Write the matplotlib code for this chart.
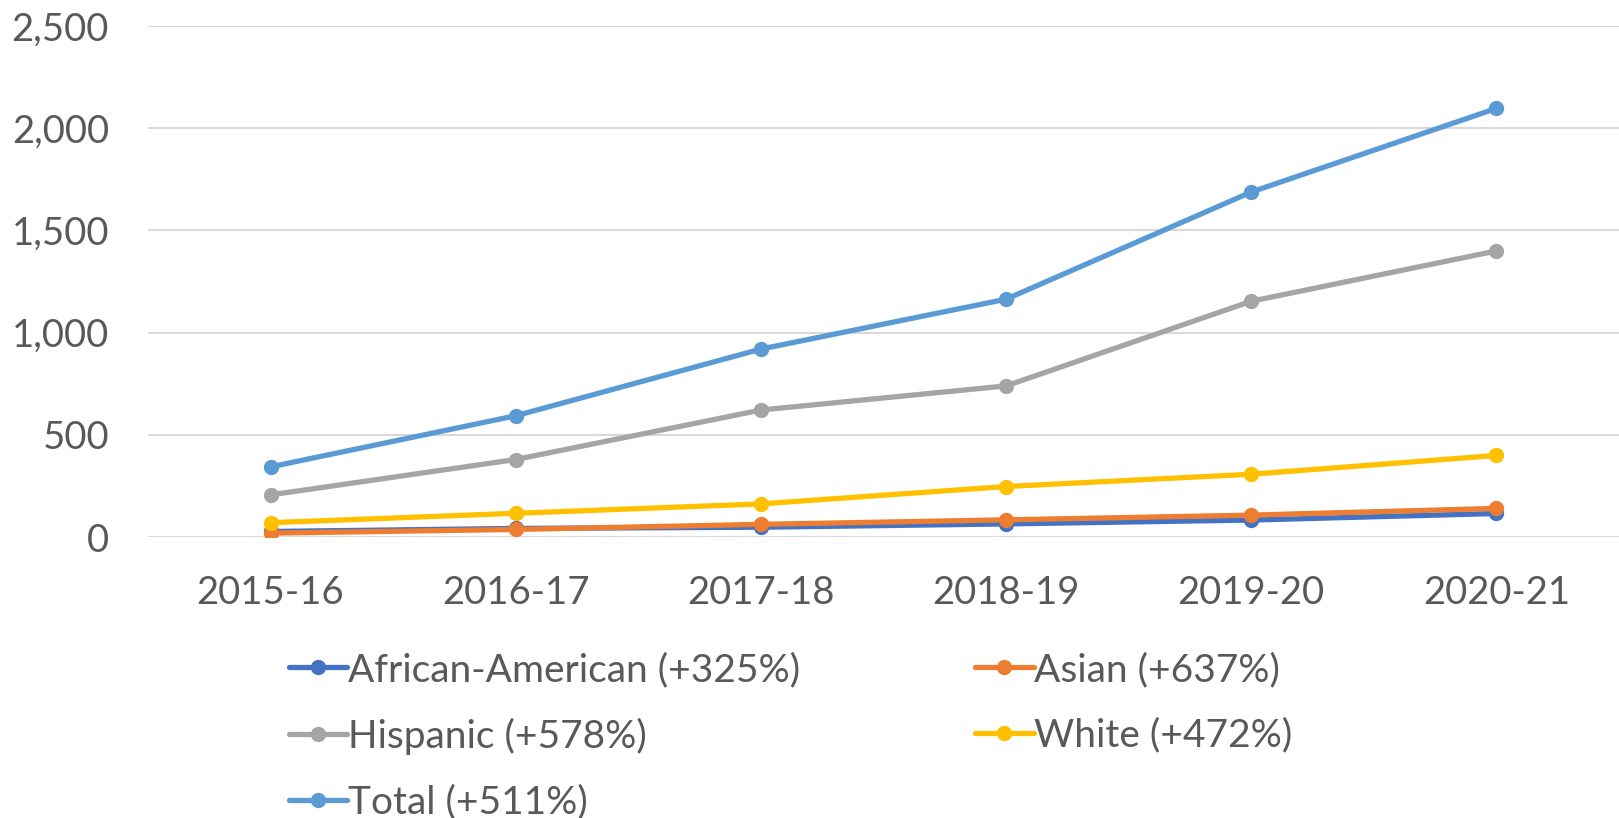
import matplotlib
matplotlib.use('Agg')
import matplotlib.pyplot as plt
from matplotlib.ticker import FuncFormatter

plt.rcParams['font.family'] = ['Lato', 'DejaVu Sans']

# data
years = ['2015-16', '2016-17', '2017-18', '2018-19', '2019-20', '2020-21']
african_american = [27, 42, 48, 64, 83, 115]
asian = [19, 37, 62, 84, 107, 140]
hispanic = [206, 379, 621, 739, 1153, 1399]
white = [70, 116, 162, 247, 307, 399]
total = [343, 593, 919, 1163, 1687, 2096]

series = [
    ('African-American (+325%)', african_american, '#4472C4'),
    ('Asian (+637%)', asian, '#ED7D31'),
    ('Hispanic (+578%)', hispanic, '#A5A5A5'),
    ('White (+472%)', white, '#FFC000'),
    ('Total (+511%)', total, '#5B9BD5'),
]

fig = plt.figure(figsize=(16.19, 8.18), dpi=100)
ax = fig.add_axes([0.0914, 0.3435, 0.9086, 0.625])

x = list(range(len(years)))
handles = []
for name, vals, col in series:
    h, = ax.plot(x, vals, color=col, lw=3.8, marker='o', markersize=10, label=name,
                 solid_capstyle='round')
    handles.append(h)

ax.set_xlim(-0.5, len(years) - 0.5)
ax.set_ylim(0, 2500)
ax.set_yticks([0, 500, 1000, 1500, 2000, 2500])
ax.yaxis.set_major_formatter(FuncFormatter(lambda v, p: f'{int(v):,}'))
ax.set_xticks(x)
ax.set_xticklabels(years)
ax.grid(axis='y', color='#D9D9D9', lw=1.5)
ax.set_axisbelow(True)
for s in ax.spines.values():
    s.set_visible(False)
ax.tick_params(length=0, labelsize=27.5, colors='#595959')
ax.tick_params(axis='x', pad=27)
ax.tick_params(axis='y', pad=28)

# legend, row-major order like the original
order = [0, 2, 4, 1, 3]
leg = fig.legend([handles[i] for i in order], [handles[i].get_label() for i in order],
                 loc='upper left', bbox_to_anchor=(0.1785, 0.203), ncol=2, frameon=False,
                 fontsize=28, handlelength=1.5, handletextpad=0.02, labelspacing=0.76,
                 columnspacing=4.5, borderaxespad=0, borderpad=0)
for t in leg.get_texts():
    t.set_color('#595959')

fig.savefig('out.png', dpi=100)
